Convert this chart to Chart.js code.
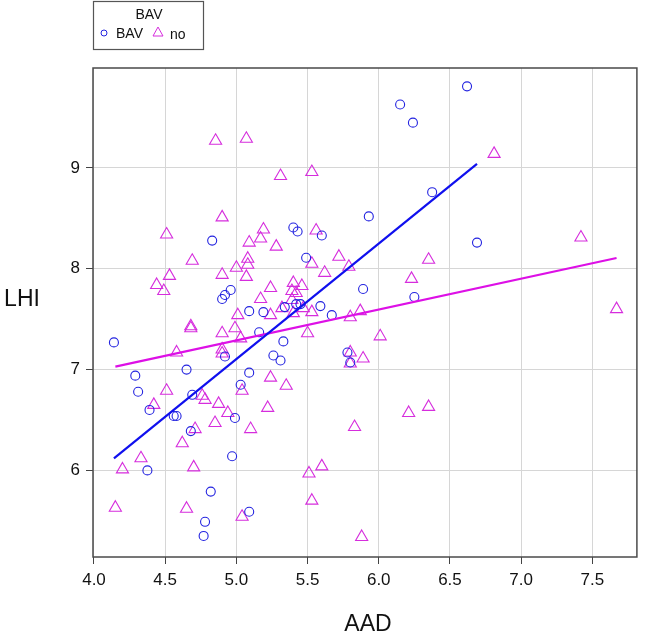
<!DOCTYPE html>
<html>
<head>
<meta charset="utf-8">
<script src="https://cdn.jsdelivr.net/npm/chart.js@4"></script>
<style>
  html, body { margin: 0; padding: 0; background: #fff; overflow: hidden; }
  #wrap { width: 645px; height: 644px; }
  canvas { display: block; }
</style>
</head>
<body>
<div id="wrap"><canvas id="myChart" width="645" height="644"></canvas></div>
<script>
// BAV group (circles)
const bavX = [6.62, 6.15, 6.24, 6.375, 5.93, 6.69, 4.83, 5.40, 5.43, 5.60, 5.49, 5.89, 6.25, 4.90, 4.92, 4.96,
  5.09, 5.19, 5.34, 5.42, 5.45, 5.59, 5.67, 4.14, 5.16, 5.33, 4.92, 5.26, 5.31, 5.78, 5.80, 4.29,
  4.65, 5.09, 4.31, 4.69, 5.03, 4.39, 4.56, 4.58, 4.99, 4.68, 4.97, 4.375, 4.82, 5.09, 4.78, 4.77];
const bavY = [9.81, 9.63, 9.45, 8.76, 8.52, 8.26, 8.28, 8.41, 8.37, 8.33, 8.11, 7.80, 7.72, 7.70, 7.74, 7.79,
  7.58, 7.57, 7.62, 7.65, 7.65, 7.63, 7.54, 7.27, 7.37, 7.28, 7.13, 7.14, 7.09, 7.17, 7.07, 6.94,
  7.00, 6.97, 6.78, 6.75, 6.85, 6.60, 6.54, 6.54, 6.52, 6.39, 6.14, 6.00, 5.79, 5.59, 5.49, 5.35];

// no group (triangles)
const noX = [4.854, 5.07, 5.31, 5.53, 6.81, 4.90, 4.51, 5.56, 5.19, 5.17, 5.09, 5.28, 4.69, 5.08, 5.08, 5.00,
  5.07, 5.53, 5.62, 5.72, 5.79, 4.53, 4.90, 4.44, 4.49, 5.24, 5.17, 5.40, 5.46, 5.39, 5.42, 5.39,
  5.32, 5.40, 5.47, 7.42, 6.35, 6.23, 7.67, 5.01, 5.24, 5.53, 5.80, 5.87, 4.68, 4.68, 4.90, 4.99,
  5.03, 5.50, 4.58, 4.90, 4.90, 5.80, 5.80, 5.89, 6.01, 4.51, 5.04, 5.24, 5.35, 4.76, 4.78, 4.875,
  4.42, 4.94, 5.22, 4.85, 4.71, 5.10, 4.62, 5.83, 6.21, 6.35, 4.33, 4.20, 4.70, 5.51, 5.60, 4.15,
  4.65, 5.53, 5.04, 5.88];
const noY = [9.27, 9.29, 8.92, 8.96, 9.14, 8.51, 8.34, 8.38, 8.39, 8.30, 8.26, 8.22, 8.08, 8.10, 8.04, 8.01,
  7.92, 8.05, 7.96, 8.12, 8.02, 7.93, 7.94, 7.84, 7.78, 7.81, 7.70, 7.86, 7.83, 7.78, 7.76, 7.69,
  7.61, 7.56, 7.61, 8.31, 8.09, 7.90, 7.60, 7.54, 7.54, 7.57, 7.52, 7.58, 7.43, 7.41, 7.36, 7.41,
  7.31, 7.36, 7.17, 7.20, 7.16, 7.17, 7.06, 7.11, 7.33, 6.79, 6.79, 6.92, 6.84, 6.74, 6.70, 6.66,
  6.65, 6.57, 6.62, 6.47, 6.41, 6.41, 6.27, 6.43, 6.57, 6.63, 6.12, 6.01, 6.03, 5.97, 6.04, 5.63,
  5.62, 5.70, 5.54, 5.34];

// fitted lines: [intercept, slope]
const fitBAV = [1.38, 1.145];
const fitNo = [5.76, 0.306];

const xTicks = [4.0, 4.5, 5.0, 5.5, 6.0, 6.5, 7.0, 7.5];
const yTicks = [6, 7, 8, 9];

const blue = '#2323e0';
const blueLine = '#1010ee';
const mag = '#d62ddd';
const magLine = '#dd10e6';
const FONT = '"Liberation Sans", Arial, sans-serif';

; ((D, log = arg => console.log(arg)) => {
  let pts = (xs, ys) => xs.map((x, i) => ({ x: x, y: ys[i] }));
  let fitLine = (xs, f) => {
    let lo = Math.min(...xs), hi = Math.max(...xs);
    return [{ x: lo, y: f[0] + f[1] * lo }, { x: hi, y: f[0] + f[1] * hi }];
  };

  // frame, axis titles and legend box
  let extras = {
    id: 'extras',
    afterDraw(chart) {
      let ctx = chart.ctx, a = chart.chartArea;
      ctx.save();
      ctx.strokeStyle = '#4a4a4a';
      ctx.lineWidth = 1.5;
      ctx.strokeRect(a.left, a.top, a.right - a.left, a.bottom - a.top);

      ctx.fillStyle = '#111';
      ctx.font = '23px ' + FONT;
      ctx.textAlign = 'center';
      ctx.textBaseline = 'middle';
      ctx.fillText('AAD', 368, 625);
      ctx.fillText('LHI', 22, 300);

      // legend
      ctx.strokeStyle = '#555';
      ctx.lineWidth = 1.2;
      ctx.strokeRect(93.5, 1.5, 110, 48);
      ctx.font = '14px ' + FONT;
      ctx.fillText('BAV', 149, 15);
      ctx.textAlign = 'left';
      ctx.fillText('BAV', 116, 34);
      ctx.fillText('no', 170, 35);
      ctx.strokeStyle = blue;
      ctx.lineWidth = 1;
      ctx.beginPath();
      ctx.arc(104, 33, 3, 0, Math.PI * 2);
      ctx.stroke();
      ctx.strokeStyle = mag;
      ctx.beginPath();
      ctx.moveTo(158, 27);
      ctx.lineTo(163, 36);
      ctx.lineTo(153, 36);
      ctx.closePath();
      ctx.stroke();
      ctx.restore();
    }
  };

  let ctx = D.querySelector('#myChart').getContext('2d');

  let chart = new Chart(ctx, {
    type: 'scatter',
    data: {
      datasets: [
        {
          label: 'fit BAV', data: fitLine(bavX, fitBAV), showLine: true,
          borderColor: blueLine, borderWidth: 2.2, pointRadius: 0, order: 0,
        },
        {
          label: 'fit no', data: fitLine(noX, fitNo), showLine: true,
          borderColor: magLine, borderWidth: 2.2, pointRadius: 0, order: 0,
        },
        {
          label: 'BAV', data: pts(bavX, bavY), pointStyle: 'circle', pointRadius: 4.5,
          borderColor: blue, backgroundColor: 'transparent', borderWidth: 1.1, order: 1,
        },
        {
          label: 'no', data: pts(noX, noY), pointStyle: 'triangle', pointRadius: 7,
          borderColor: mag, backgroundColor: 'transparent', borderWidth: 1.1, order: 2,
        },
      ]
    },
    options: {
      responsive: false,
      animation: false,
      layout: { padding: { top: 68, right: 2, left: 0, bottom: 0 } },
      plugins: { legend: { display: false }, tooltip: { enabled: false } },
      scales: {
        x: {
          type: 'linear', min: 3.993, max: 7.813,
          afterBuildTicks: s => { s.ticks = xTicks.map(v => ({ value: v })); },
          afterFit: s => { s.height = 87; s.paddingLeft = 0; s.paddingRight = 0; },
          border: { display: false },
          grid: { color: '#d6d6d6', lineWidth: 1, tickColor: '#444', tickLength: 7 },
          ticks: {
            color: '#111', font: { family: FONT, size: 17 }, padding: 6,
            maxRotation: 0, callback: v => v.toFixed(1),
          },
        },
        y: {
          type: 'linear', min: 5.141, max: 9.992,
          afterBuildTicks: s => { s.ticks = yTicks.map(v => ({ value: v })); },
          afterFit: s => { s.width = 93; s.paddingTop = 0; s.paddingBottom = 0; },
          border: { display: false },
          grid: { color: '#d6d6d6', lineWidth: 1, tickColor: '#444', tickLength: 7 },
          ticks: { color: '#111', font: { family: FONT, size: 17 }, padding: 6 },
        },
      }
    },
    plugins: [extras]
  });
})(document);
</script>
</body>
</html>
